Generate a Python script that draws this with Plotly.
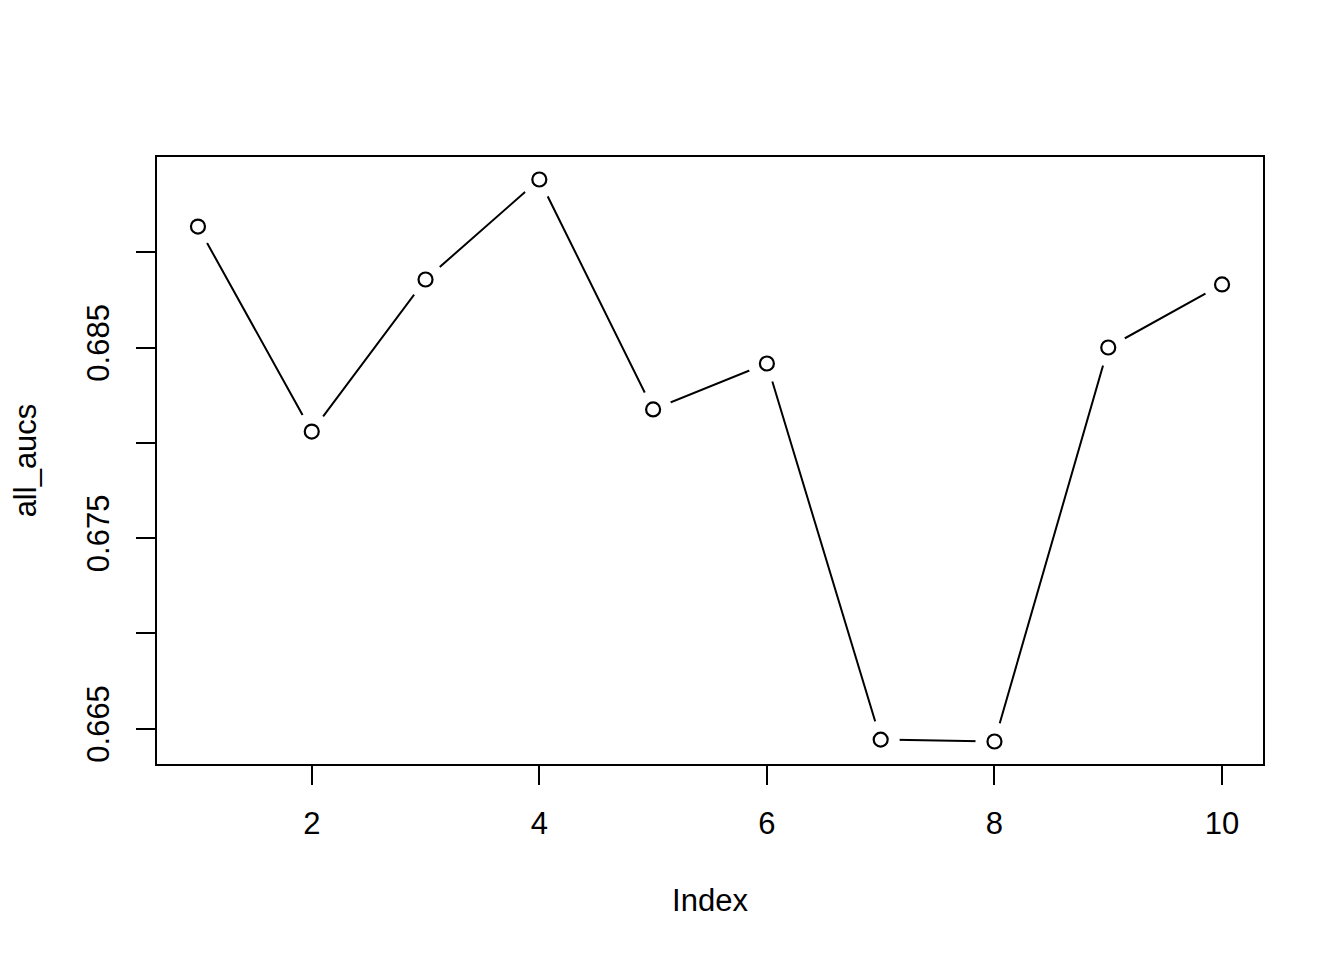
import plotly.graph_objects as go

index = [1, 2, 3, 4, 5, 6, 7, 8, 9, 10]
all_aucs = [0.69135, 0.68059, 0.68857, 0.69382, 0.68175, 0.68416, 0.66442, 0.66432, 0.68500, 0.68831]

x_ticks = [2, 4, 6, 8, 10]
y_ticks = [0.665, 0.670, 0.675, 0.680, 0.685, 0.690]
y_ticktext = ["0.665", "", "0.675", "", "0.685", ""]

def rrange(v):
    lo, hi = min(v), max(v)
    d = (hi - lo) * 0.04
    return [lo - d, hi + d]

FONT = "Liberation Sans, Arial, sans-serif"
FS = 31

fig = go.Figure()
fig.add_trace(go.Scatter(x=index, y=all_aucs, mode="lines",
                         line=dict(color="black", width=2), hoverinfo="skip"))
fig.add_trace(go.Scatter(x=index, y=all_aucs, mode="markers",
                         marker=dict(color="white", size=38, line=dict(width=0)), hoverinfo="skip"))
fig.add_trace(go.Scatter(x=index, y=all_aucs, mode="markers",
                         marker=dict(symbol="circle-open", color="black", size=14,
                                     line=dict(width=2.2, color="black"))))

axis_common = dict(showgrid=False, zeroline=False, showline=True, mirror=True,
                   linecolor="black", linewidth=2, ticks="outside", ticklen=19,
                   tickwidth=2, tickcolor="black",
                   tickfont=dict(family=FONT, size=FS, color="black"))

fig.update_layout(
    width=1344, height=960,
    margin=dict(l=149, r=89, t=149, b=204, autoexpand=False),
    paper_bgcolor="white", plot_bgcolor="white",
    showlegend=False,
    font=dict(family=FONT, size=FS, color="black"),
    xaxis=dict(range=rrange(index), tickvals=x_ticks, ticktext=[str(t) for t in x_ticks],
               ticklabelstandoff=12,
               title=dict(text="Index", standoff=49, font=dict(family=FONT, size=FS)),
               **axis_common),
    yaxis=dict(range=rrange(all_aucs), tickvals=y_ticks, ticktext=y_ticktext, tickangle=-90,
               ticklabelstandoff=15,
               title=dict(text="all_aucs", standoff=43, font=dict(family=FONT, size=FS)),
               **axis_common),
)

fig.write_html("out.html")
